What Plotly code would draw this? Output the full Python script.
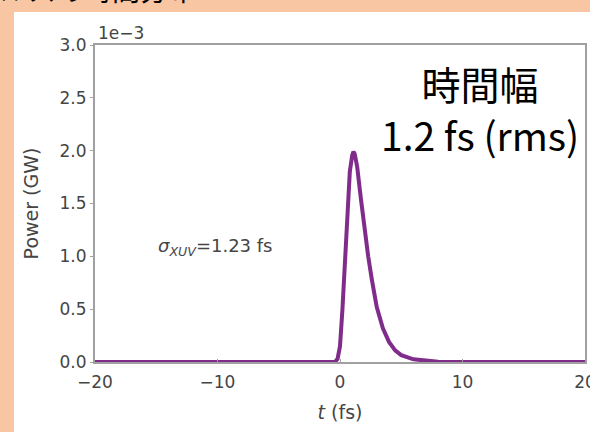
import plotly.graph_objects as go

# Data
t_fs = [-20, -5, -1, -0.4, -0.2, 0.0, 0.2, 0.4, 0.6, 0.8, 1.0, 1.1, 1.2, 1.4, 1.7,
        2.0, 2.3, 2.6, 3.0, 3.5, 4.0, 4.5, 5.0, 6.0, 7.0, 8.0, 10.0, 20.0]
power_gw = [0, 0, 0, 0, 0.03e-3, 0.15e-3, 0.5e-3, 1.0e-3, 1.45e-3, 1.8e-3, 1.96e-3, 1.99e-3,
            1.97e-3, 1.85e-3, 1.55e-3, 1.25e-3, 1.0e-3, 0.78e-3, 0.52e-3, 0.32e-3, 0.19e-3,
            0.11e-3, 0.065e-3, 0.025e-3, 0.01e-3, 0.003e-3, 0, 0]
x_ticks = [-20, -10, 0, 10, 20]
x_tick_labels = ["\u221220", "\u221210", "0", "10", "20"]
y_ticks = [0, 0.5e-3, 1.0e-3, 1.5e-3, 2.0e-3, 2.5e-3, 3.0e-3]
y_tick_labels = ["0.0", "0.5", "1.0", "1.5", "2.0", "2.5", "3.0"]

W, H = 590, 432
ML, MR, MT, MB = 95, 5, 45, 70
pw, ph = W - ML - MR, H - MT - MB

def px(x):
    return (x - ML) / pw

def py(y):
    return (H - MB - y) / ph

tick_font = dict(family="DejaVu Sans", size=17, color="#454545")
title_font = dict(family="DejaVu Sans", size=19, color="#454545")

fig = go.Figure()
fig.add_trace(go.Scatter(x=t_fs, y=power_gw, mode="lines",
                         line=dict(color="#7f2c8a", width=4), showlegend=False))

fig.update_layout(
    width=W, height=H,
    margin=dict(l=ML, r=MR, t=MT, b=MB, autoexpand=False),
    paper_bgcolor="#F8C6A2",
    plot_bgcolor="white",
    xaxis=dict(range=[-20, 20], tickvals=x_ticks, ticktext=x_tick_labels,
               showgrid=False, zeroline=False, showline=True, mirror=True,
               linecolor="#a0a0a0", linewidth=2, ticks="inside", ticklen=3,
               tickcolor="#a0a0a0", tickfont=tick_font, ticklabeloverflow="allow",
               ticklabelstandoff=4, automargin=False,
               title=dict(text="<i>t</i> (fs)", font=title_font, standoff=14)),
    yaxis=dict(range=[0, 3.0e-3], tickvals=y_ticks, ticktext=y_tick_labels,
               showgrid=False, zeroline=False, showline=True, mirror=True,
               linecolor="#a0a0a0", linewidth=2, ticks="outside", ticklen=3,
               tickcolor="#a0a0a0", tickfont=tick_font, automargin=False,
               title=dict(text="Power (GW)", font=title_font, standoff=16)),
    shapes=[dict(type="rect", xref="paper", yref="paper", layer="below",
                 x0=px(14), x1=px(595), y0=py(12), y1=py(440),
                 fillcolor="white", line=dict(width=0))],
    annotations=[
        dict(text="1e\u22123", xref="paper", yref="paper", x=px(96), y=py(45),
             xanchor="left", yanchor="bottom", showarrow=False, font=tick_font),
        dict(text="<i>\u03c3<sub>XUV</sub></i>=1.23 fs", xref="paper", yref="paper",
             x=px(156), y=py(247), xanchor="left", yanchor="middle", showarrow=False,
             font=dict(family="DejaVu Sans", size=18, color="#454545")),
        dict(text="時間幅<br>1.2 fs (rms)", xref="paper", yref="paper", x=px(480), y=py(108),
             xanchor="center", yanchor="middle", showarrow=False, align="center",
             font=dict(family="Noto Sans CJK JP", size=39, color="black")),
        dict(text="パルスの時間分布", xref="paper", yref="paper", x=px(-30), y=py(11),
             xanchor="left", yanchor="bottom", showarrow=False,
             font=dict(family="Noto Sans CJK JP", size=28, color="black")),
    ],
)

fig.write_html("out.html")
